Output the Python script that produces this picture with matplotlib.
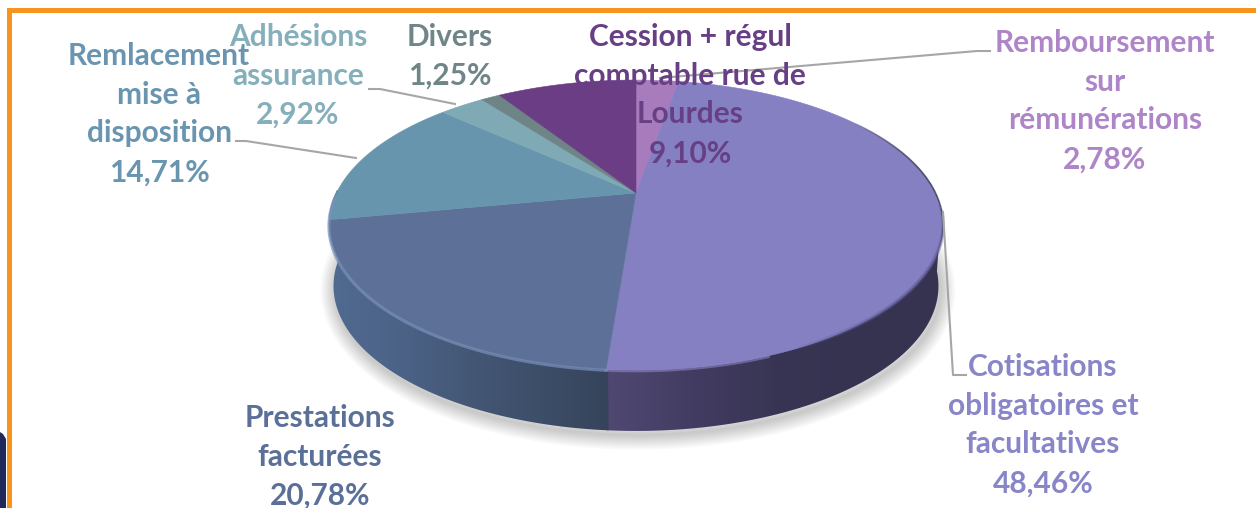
import numpy as np
import matplotlib
matplotlib.use('Agg')
import matplotlib.pyplot as plt
from matplotlib.collections import LineCollection
from matplotlib.colors import LinearSegmentedColormap, to_rgb
from matplotlib.patches import Polygon, Rectangle
from matplotlib.path import Path
from matplotlib.transforms import Affine2D, Transform

labels = ['Remboursement\nsur\nrémunérations\n2,78%',
          'Cotisations\nobligatoires et\nfacultatives\n48,46%',
          'Prestations\nfacturées\n20,78%',
          'Remlacement\nmise à\ndisposition\n14,71%',
          'Adhésions\nassurance\n2,92%',
          'Divers\n1,25%',
          'Cession + régul\ncomptable rue de\nLourdes\n9,10%']
values = [2.78, 48.46, 20.78, 14.71, 2.92, 1.25, 9.10]
colors = ['#a87bbd', '#8480c2', '#5d7198', '#6895ae', '#7fa9b5', '#6e8487', '#6a3d84']
text_colors = ['#ae85c8', '#8886c8', '#5b7099', '#6a95b0', '#85afbb', '#6f8588', '#673f85']

# label centres in pixels
text_pos = [(1105, 101), (1043, 425), (320, 457), (159, 114), (298, 76), (450, 56), (690, 95)]

# leader lines in pixels
leaders = [[(990, 51), (977, 51), (660, 78)],
           [(943, 212), (953, 375), (966, 375)],
           [(236, 141), (246, 141), (356, 158)],
           [(369, 89), (380, 89), (455, 104)]]

CX, CY = 636, 193
A, B, K = 137.9, 299.5, 0.2207
DEPTH = 61


def project(x, y):
    w = 1 + K * y
    return CX + B * x / w, CY - A * y / w


class Perspective(Transform):
    input_dims = 2
    output_dims = 2
    is_affine = False
    has_inverse = False

    def transform_non_affine(self, values):
        values = np.asarray(values)
        px, py = project(values[:, 0], values[:, 1])
        return np.column_stack([px, py])

    def transform_path_non_affine(self, path):
        # flatten the arcs first, bezier handles do not survive the projection
        polys = path.transformed(Affine2D().scale(2000)).to_polygons()
        return Path(self.transform_non_affine(np.vstack(polys) / 2000))


def rim(a1, a2):
    # a1, a2 in degrees clockwise from 12 o'clock
    t = np.radians(np.linspace(a1, a2, 120))
    return project(np.sin(t), np.cos(t))


def lower(x, y):
    return CX + 0.985 * (x - CX), y + DEPTH


def fade_rim(ax, a1, a2, color, lw, alpha, dy=0):
    # rim line that fades out at both ends
    x, y = rim(a1, a2)
    pts = np.column_stack([x, y + dy])
    segs = np.stack([pts[:-1], pts[1:]], axis=1)
    fade = np.sin(np.linspace(0, np.pi, len(segs))) ** 0.7
    rgba = [(*to_rgb(color), alpha * f) for f in fade]
    ax.add_collection(LineCollection(segs, colors=rgba, linewidths=lw, zorder=6,
                                     capstyle='butt'))


fig = plt.figure(figsize=(12.56, 5.08), dpi=100)
ax = fig.add_axes([0, 0, 1, 1])

wedges, _ = ax.pie(values, colors=colors, startangle=90, counterclock=False, radius=1)
persp = Perspective() + ax.transData
for w, c in zip(wedges, colors):
    w.set_transform(persp)
    w.set_edgecolor(c)
    w.set_linewidth(0.4)
    w.set_zorder(5)

ax.set_aspect('auto')
ax.set_xlim(0, 1256)
ax.set_ylim(508, 0)
ax.axis('off')

# soft shadow under the pie
sx, sy = rim(90, 290)
sx, sy = lower(sx, sy)
for i in range(9):
    ax.plot(sx + 2, sy + 4, color='#000000', alpha=0.022, lw=2 + i * 2.4, zorder=1,
            solid_capstyle='round')

# side walls, gradient along x
edges = np.cumsum([0] + values) * 3.6
side_maps = {1: ['#504872', '#423c62', '#383554', '#363351', '#363351'],
             2: ['#516a90', '#4c6388', '#445775', '#3d4e69', '#35445b']}
side_ranges = {1: (97, edges[2]), 2: (edges[2] - 0.3, 272)}
side_extent = {1: (607, 945), 2: (328, 609)}
for i in (1, 2):
    x, y = rim(*side_ranges[i])
    bx, by = lower(x, y)
    outline = np.column_stack([np.r_[x, bx[::-1]], np.r_[y - 2, by[::-1]]])
    poly = Polygon(outline, closed=True, facecolor='none', edgecolor='none')
    ax.add_patch(poly)
    cmap = LinearSegmentedColormap.from_list('side', side_maps[i])
    x0, x1 = side_extent[i]
    im = ax.imshow(np.linspace(0, 1, 256).reshape(1, -1), cmap=cmap, aspect='auto',
                   extent=(x0, x1, 470, 190), zorder=2)
    im.set_clip_path(poly)
ax.set_xlim(0, 1256)
ax.set_ylim(508, 0)

# bevel along the front rim
x, y = rim(edges[2], 268)
ax.plot(x, y + 1, color='#7a92bc', lw=2.2, alpha=0.7, zorder=6)
x, y = rim(edges[2] - 25, edges[2])
ax.plot(x, y + 1, color='#9a90d6', lw=2, alpha=0.5, zorder=6)
fade_rim(ax, 95, 155, '#5f5b95', 2.6, 0.6, dy=0)
fade_rim(ax, 55, 115, '#35324e', 1.2, 0.8)

for pts in leaders:
    lx, ly = zip(*pts)
    ax.plot(lx, ly, color='#a6a6a6', lw=1.5, zorder=7)

for lab, col, (tx, ty) in zip(labels, text_colors, text_pos):
    ax.text(tx, ty, lab, color=col, fontsize=21.5, fontweight='bold', family='Lato',
            ha='center', va='center', linespacing=1.476, zorder=8)

# orange frame and the dark corner at the lower left
ax.add_patch(Rectangle((7, 8), 1249, 5, facecolor='#f7941d', edgecolor='none', zorder=9))
ax.add_patch(Rectangle((7, 8), 5, 500, facecolor='#f7941d', edgecolor='none', zorder=9))
ax.add_patch(Polygon([(0, 432), (3, 434), (6, 439), (6, 508), (0, 508)],
                     facecolor='#1f2a5a', edgecolor='none', zorder=9))

fig.savefig('out.png', dpi=100)
